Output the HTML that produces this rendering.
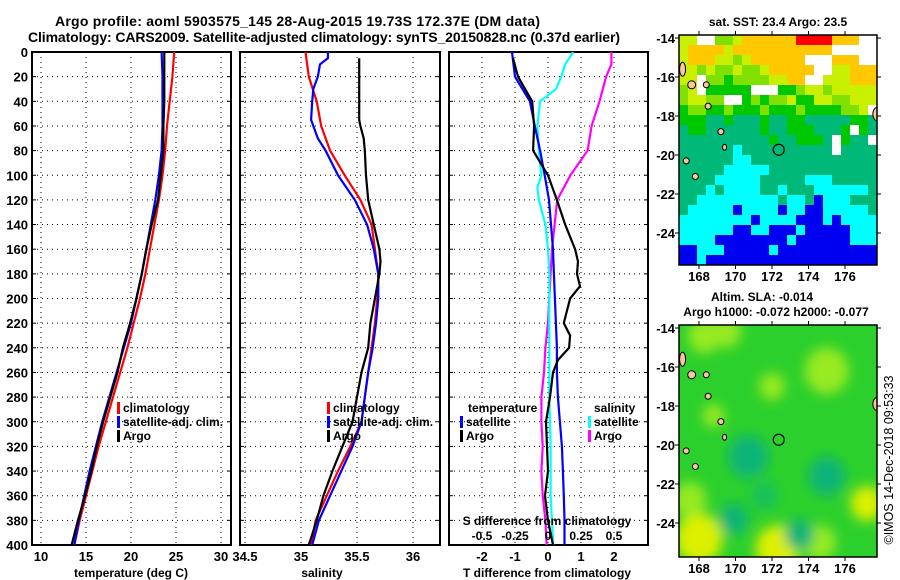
<!DOCTYPE html>
<html><head><meta charset="utf-8">
<style>
html,body{margin:0;padding:0;background:#fff;}
svg{display:block;font-family:"Liberation Sans",Arial,sans-serif;font-weight:bold;}
</style></head>
<body>
<svg id="fig" width="900" height="580" viewBox="0 0 900 580" xmlns="http://www.w3.org/2000/svg">
<defs>
<clipPath id="cp1"><rect x="32" y="52" width="199" height="493"/></clipPath>
<clipPath id="cp2"><rect x="240" y="52" width="200" height="493"/></clipPath>
<clipPath id="cp3"><rect x="449" y="52" width="199" height="493"/></clipPath>
<clipPath id="cpm1"><rect x="679" y="35" width="198" height="230"/></clipPath>
<clipPath id="cpm2"><rect x="679" y="325" width="198" height="232"/></clipPath>
<filter id="blur" x="-20%" y="-20%" width="140%" height="140%"><feGaussianBlur stdDeviation="6"/></filter>
</defs>
<text x="55" y="26" font-size="14" textLength="485">Argo profile: aoml 5903575_145 28-Aug-2015 19.73S 172.37E (DM data)</text>
<text x="28" y="42" font-size="14" textLength="592">Climatology: CARS2009. Satellite-adjusted climatology: synTS_20150828.nc (0.37d earlier)</text>
<g id="p1"></g>
<g id="p2"></g>
<g id="p3"></g>
<g id="m1"></g>
<g id="m2"></g>
<text x="778" y="26" font-size="12" text-anchor="middle">sat. SST: 23.4 Argo: 23.5</text>
<text x="762" y="301" font-size="12" text-anchor="middle">Altim. SLA: -0.014</text>
<text x="776" y="316" font-size="12" text-anchor="middle">Argo h1000: -0.072 h2000: -0.077</text>
<text transform="translate(893,460) rotate(-90)" font-size="12.5" font-weight="normal" text-anchor="middle">©IMOS 14-Dec-2018 09:53:33</text>
</svg>
<script>
const NS='http://www.w3.org/2000/svg';
// ---- profile data ----
const depths=[0,20,40,60,80,100,120,140,160,180,200,220,240,260,280,300,320,340,360,380,400];
const tempClim=[24.8,24.6,24.3,24.0,23.8,23.5,23.1,22.6,22.1,21.6,21.0,20.3,19.6,18.8,18.0,17.2,16.4,15.7,15.0,14.3,13.7];
const tempSat=[23.4,23.5,23.5,23.5,23.4,23.1,22.7,22.2,21.7,21.2,20.6,20.0,19.2,18.4,17.6,16.8,16.1,15.4,14.8,14.2,13.7];
const tempArgo=[23.7,23.7,23.7,23.6,23.6,23.3,23.0,22.3,21.7,21.2,20.6,19.9,19.1,18.5,17.7,16.9,16.2,15.6,14.9,14.1,13.4];
const salClim=[35.04,35.07,35.14,35.18,35.26,35.39,35.53,35.63,35.66,35.69,35.68,35.66,35.63,35.60,35.57,35.54,35.44,35.33,35.23,35.13,35.09];
const salSatDepths=[0,5,10,20,30,40,55,70,80,100,120,140,160,180,200,220,240,260,280,300,320,340,360,380,400];
const salSat=[35.24,35.24,35.17,35.15,35.11,35.10,35.09,35.15,35.22,35.33,35.48,35.59,35.65,35.69,35.69,35.67,35.64,35.60,35.57,35.54,35.46,35.36,35.26,35.16,35.10];
const salArgoDepths=[5,20,40,55,60,70,80,100,120,140,160,170,180,200,220,240,260,280,300,320,340,360,380,400];
const salArgo=[35.52,35.52,35.52,35.52,35.53,35.56,35.57,35.58,35.60,35.65,35.70,35.71,35.70,35.66,35.62,35.60,35.54,35.50,35.46,35.37,35.28,35.20,35.14,35.07];
// ---- difference data ----
const diffDepths=[0,20,40,60,80,100,120,140,160,180,200,220,240,260,280,300,320,340,360,380,400];
const dTempSat=[-1.09,-1.0,-0.55,-0.4,-0.24,-0.1,0.03,0.09,0.15,0.18,0.21,0.24,0.27,0.27,0.3,0.36,0.42,0.45,0.48,0.5,0.5];
const dTempArgoDepths=[5,20,40,60,80,100,120,140,160,170,180,190,200,220,230,240,250,260,280,300,320,340,360,380,400];
const dTempArgo=[-1.06,-0.91,-0.48,-0.42,-0.45,0,0.27,0.52,0.82,0.91,0.88,0.97,0.67,0.48,0.67,0.64,0.3,0.15,0.06,-0.06,-0.03,0,-0.09,0,0.15];
const dSalSatDepths=[0,10,20,30,40,60,80,100,110,120,140,160,180,200,240,280,320,360,400];
const dSalSat=[0.19,0.13,0.1,0.06,-0.06,-0.08,-0.07,-0.05,-0.08,-0.07,-0.02,0,0.01,0.01,0.01,0.01,0.02,0.02,0.04];
const dSalArgoDepths=[0,10,20,40,60,80,100,120,140,160,180,200,220,240,260,280,300,320,340,360,380,400];
const dSalArgo=[0.48,0.48,0.44,0.39,0.33,0.3,0.17,0.07,0.05,0.03,0.02,0.01,0,-0.02,-0.03,-0.05,-0.05,-0.04,-0.05,-0.04,-0.02,-0.01];
// ---- tick labels ----
const depthTicks=[0,20,40,60,80,100,120,140,160,180,200,220,240,260,280,300,320,340,360,380,400];
const tempTicks=[10,15,20,25,30];
const salTicks=[34.5,35,35.5,36];
const dTempTicks=[-2,-1,0,1,2];
const dSalTicks=[-0.5,-0.25,0,0.25,0.5];
const dSalTickLabels=['-0.5','-0.25','0','0.25','0.5'];
const lonTicks=[168,170,172,174,176];
const latTicks=[-14,-16,-18,-20,-22,-24];
const argoLon=172.37, argoLat=-19.73;
// ---- SST map grid (22 cols x 23 rows) ----
const sstRows=[
"YYWWLLYOOOOOORRRROOOWW",
"YOOOOYOOOOOOOOOOOWWWWW",
"YOOOYYLYOOOOOOWWWOOOWW",
"YYLYLLYLLYOOOOOWWYYOOO",
"YYWLLGLLLLYYOOWWYYYOOO",
"LYWGGGGGWWWGGLYYLYYYYY",
"LYYLLWWGLGLLYGGYYLLYYY",
"GLLGGLGGGLGGGLGGGGLLYW",
"GGGTTGTTTGTTGGTTTTTGGT",
"TGGTTTTTTGTTGGGTTTGWGT",
"TTTTTTTTTTGTTGGGTWGTTW",
"TTTTTTCTTTTTTTTTTWTTTT",
"TTTTTTCCTTTTTTTTTTTTTT",
"TTTTTCCCCCTTTTTTTTTTTT",
"TTTTCCCCCTTTTTCCCTTTTT",
"TTTCTCCCCTTCTTTCCCCCCT",
"TTCCCCCCCCCTCCTBCCCTTT",
"TCCCCCBCCCCBCCBBCCCCCT",
"CCCCCCCCBCCCCBBBCBCCCC",
"CCCCCCBBCCBBBCBBBBBCCC",
"CCCCBBBBBBBBCBBBBBBCCC",
"BBCCCBBBBBCBBBBBBBBBBB",
"BBCBBBBBBBBBBBBBBBBBBB"];
// ---- SLA blobs: lon, lat, radius(deg), level ----
const slaLon=[168.3,169.5,175,172,177.2,174.6,168,172.3,167.5,170.7,175,169.9,173.5,171.6,168.8];
const slaLat=[-14.4,-14.2,-16.2,-17,-23,-25,-24.8,-25.3,-22.8,-20.6,-21.6,-23.8,-24.6,-22.6,-18.5];
const slaRad=[0.9,0.8,1.2,0.7,0.9,0.9,1.3,1.2,0.9,1.1,1.0,0.8,0.8,0.7,0.6];
const slaLevel=['L','L','L','L','Y','L','Y','Y','L','T','T','T','T','D','L'];

function el(tag,attrs,parent){const e=document.createElementNS(NS,tag);for(const k in attrs)e.setAttribute(k,attrs[k]);parent.appendChild(e);return e;}
const Y0=52,PH=493;
function yD(d){return Y0+d*PH/400;}
function x1(t){return 41+(t-10)*9;}
function x2(s){return 245+(s-34.5)*112;}
function x3T(v){return 548+v*33;}
function x3S(v){return 548+v*132;}
function pts(xs,ds,fx){return xs.map((v,i)=>fx(v).toFixed(1)+','+yD(ds[i]).toFixed(1)).join(' ');}

function panel(g,x0,w,xticksPx,clip,showDepth){
  for(const d of depthTicks){
    const y=yD(d);
    if(d>0&&d<400){
      const gl=el('line',{x1:x0,x2:x0+w,y1:y,y2:y,stroke:'#000','stroke-width':1,'stroke-dasharray':'1 4'},g);
      
      
    }
    el('line',{x1:x0,x2:x0+4,y1:y,y2:y,stroke:'#000','stroke-width':1},g);
    el('line',{x1:x0+w-4,x2:x0+w,y1:y,y2:y,stroke:'#000','stroke-width':1},g);
    if(showDepth){
      const t=el('text',{x:x0-4,y:y+5,'font-size':13,'text-anchor':'end'},g);
      t.textContent=d;
      
      
    }
  }
  for(const xp of xticksPx){
    const gl=el('line',{x1:xp,x2:xp,y1:Y0,y2:Y0+PH,stroke:'#000','stroke-width':1,'stroke-dasharray':'1 4'},g);
    
    
  }
  const r=el('rect',{x:x0,y:Y0,width:w,height:PH,fill:'none',stroke:'#000','stroke-width':2},g);
  
  
}
function line(g,xs,ds,fx,color,clip,name){
  const p=el('polyline',{points:pts(xs,ds,fx),fill:'none',stroke:color,'stroke-width':2.2,'clip-path':'url(#'+clip+')','stroke-linejoin':'miter'},g);
  
  
}
function label(g,x,y,txt,size,anchor,name){
  const t=el('text',{x:x,y:y,'font-size':size,'text-anchor':anchor||'middle'},g);
  t.textContent=txt;
  
  
  return t;
}
function legend(g,x,y,color,txt,name){
  const m=el('rect',{x:x,y:y-10,width:3,height:12,fill:color},g);
  
  
  label(g,x+6,y,txt,12,'start',name);
}

// Panel 1
const g1=document.getElementById('p1');
panel(g1,32,199,tempTicks.map(x1),'cp1',true);
tempTicks.forEach(t=>label(g1,x1(t),561,String(t),13,'middle','temperature-tick-label'));
label(g1,131,577,'temperature (deg C)',12,'middle','temperature-axis-title');
line(g1,tempClim,depths,x1,'#ff0000','cp1','temperature-climatology-line');
line(g1,tempSat,depths,x1,'#0000ff','cp1','temperature-satellite-line');
line(g1,tempArgo,depths,x1,'#000000','cp1','temperature-argo-line');
legend(g1,117,412,'#ff0000','climatology','legend-climatology');
legend(g1,117,426,'#0000ff','satellite-adj. clim.','legend-satellite-adj');
legend(g1,117,440,'#000000','Argo','legend-argo');

// Panel 2
const g2=document.getElementById('p2');
panel(g2,240,200,salTicks.map(x2),'cp2',false);
salTicks.forEach(s=>label(g2,x2(s),561,String(s),13,'middle','salinity-tick-label'));
label(g2,322,577,'salinity',12,'middle','salinity-axis-title');
line(g2,salClim,depths,x2,'#ff0000','cp2','salinity-climatology-line');
line(g2,salSat,salSatDepths,x2,'#0000ff','cp2','salinity-satellite-line');
line(g2,salArgo,salArgoDepths,x2,'#000000','cp2','salinity-argo-line');
legend(g2,327,412,'#ff0000','climatology','legend-climatology');
legend(g2,327,426,'#0000ff','satellite-adj. clim.','legend-satellite-adj');
legend(g2,327,440,'#000000','Argo','legend-argo');

// Panel 3
const g3=document.getElementById('p3');
panel(g3,449,199,dTempTicks.map(x3T),'cp3',false);
line(g3,dSalArgo,dSalArgoDepths,x3S,'#ff00ff','cp3','salinity-argo-diff-line');
line(g3,dSalSat,dSalSatDepths,x3S,'#00ffff','cp3','salinity-satellite-diff-line');
line(g3,dTempSat,diffDepths,x3T,'#0000ff','cp3','temperature-satellite-diff-line');
line(g3,dTempArgo,dTempArgoDepths,x3T,'#000000','cp3','temperature-argo-diff-line');
dTempTicks.forEach(v=>label(g3,x3T(v),561,String(v),13,'middle','t-diff-tick-label'));
label(g3,547,577,'T difference from climatology',12,'middle','t-diff-axis-title');
label(g3,547,525,'S difference from climatology',12,'middle','s-diff-axis-title');
dSalTicks.forEach((v,i)=>label(g3,x3S(v),540,dSalTickLabels[i],12,'middle','s-diff-tick-label'));
label(g3,468,412,'temperature',12,'start','legend-temperature-heading');
legend(g3,460,426,'#0000ff','satellite','legend-temp-satellite');
legend(g3,460,440,'#000000','Argo','legend-temp-argo');
label(g3,594,412,'salinity',12,'start','legend-salinity-heading');
legend(g3,588,426,'#00ffff','satellite','legend-sal-satellite');
legend(g3,588,440,'#ff00ff','Argo','legend-sal-argo');

// Maps
const MX0=679,MW=198;
function lonX(lon){return 699+(lon-168)*18.25;}
function latY(lat,top){return top+(-14-lat)*19.5;}
function mapAxes(g,top,h,latTop){
  for(const lon of lonTicks){
    const x=lonX(lon);
    el('line',{x1:x,x2:x,y1:top,y2:top-4,stroke:'#000'},g);
    el('line',{x1:x,x2:x,y1:top+h,y2:top+h+4,stroke:'#000'},g);
    label(g,x,top+h+16,String(lon),13,'middle','longitude-tick-label');
  }
  for(const lat of latTicks){
    const y=latY(lat,latTop);
    el('line',{x1:MX0,x2:MX0-4,y1:y,y2:y,stroke:'#000'},g);
    el('line',{x1:MX0+MW,x2:MX0+MW+4,y1:y,y2:y,stroke:'#000'},g);
    label(g,MX0-4,y+5,String(lat),13,'end','latitude-tick-label');
  }
  const r=el('rect',{x:MX0,y:top,width:MW,height:h,fill:'none',stroke:'#000','stroke-width':1.5},g);
  
  
}
function islands(g,latTop,clip){
  const isl=[[167.1,-15.6,3,7],[167.6,-16.4,4,4],[168.4,-16.4,3,3],[168.5,-17.5,3,3],[169.2,-18.8,3,3],[169.4,-19.6,2,3],[167.3,-20.3,3,3],[167.8,-21.1,3,3],[177.8,-17.9,5,7]];
  for(const s of isl){
    const e=el('ellipse',{cx:lonX(s[0]),cy:latY(s[1],latTop),rx:s[2],ry:s[3],fill:'#f8c898',stroke:'#000','stroke-width':1,'clip-path':'url(#'+clip+')'},g);
    
    
  }
  const c=el('circle',{cx:lonX(argoLon),cy:latY(argoLat,latTop),r:5.5,fill:'none',stroke:'#000','stroke-width':1.2},g);
  
  
}
const sstColors={W:'#ffffff',O:'#ffc800',R:'#ff0000',Y:'#c8f000',L:'#80e000',G:'#00c800',T:'#00b878',C:'#00ffff',B:'#0000f0'};
const gm1=document.getElementById('m1');
const cw=MW/22, ch=230/23;
sstRows.forEach((row,ri)=>{
  for(let ci=0;ci<row.length;ci++){
    const r=el('rect',{x:(MX0+ci*cw).toFixed(2),y:(35+ri*ch).toFixed(2),width:(cw+0.4).toFixed(2),height:(ch+0.4).toFixed(2),fill:sstColors[row[ci]]},gm1);
    
    
  }
});
islands(gm1,38,'cpm1');
mapAxes(gm1,35,230,38);

const slaColors={L:'#98ea20',Y:'#dcf000',T:'#10b478',D:'#18c060'};
const gm2=document.getElementById('m2');
el('rect',{x:MX0,y:325,width:MW,height:232,fill:'#2cd02c'},gm2);
const blobG=el('g',{'clip-path':'url(#cpm2)'},gm2);
const blobInner=el('g',{filter:'url(#blur)'},blobG);
slaLon.forEach((lon,i)=>{
  const b=el('ellipse',{cx:lonX(lon),cy:latY(slaLat[i],328),rx:slaRad[i]*18.25,ry:slaRad[i]*19.5,fill:slaColors[slaLevel[i]]},blobInner);
  
  
});
islands(gm2,328,'cpm2');
mapAxes(gm2,325,232,328);
</script>
</body></html>
